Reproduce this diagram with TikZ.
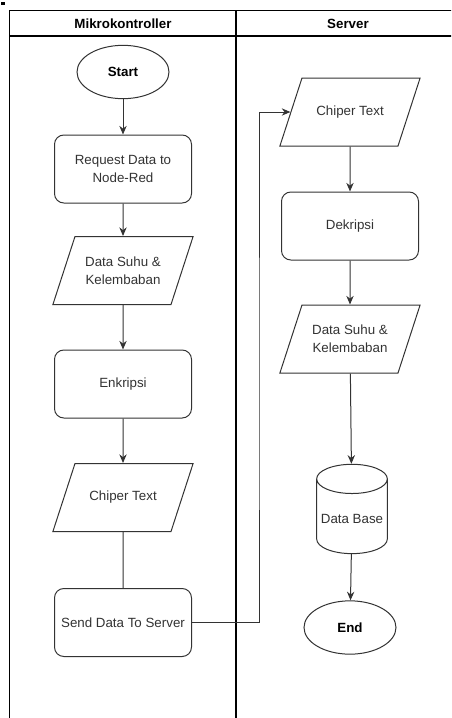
\documentclass[tikz,border=0pt]{standalone}
\usepackage{fontspec}
\setmainfont{Liberation Sans}
\usetikzlibrary{positioning,arrows.meta,shapes.geometric}
\definecolor{ink}{HTML}{000000}
\definecolor{inktwo}{HTML}{333333}
\definecolor{paper}{HTML}{FFFFFF}

\begin{document}
\begin{tikzpicture}[
      x=0.75pt, y=-0.75pt,
      lane/.style={draw=ink, line width=1pt},
      box/.style={draw=inktwo, fill=paper, rounded corners=7pt, line width=0.75pt,
                  minimum width=102.75pt, minimum height=51pt, align=center,
                  inner sep=2pt, text=inktwo, font=\fontsize{10}{13.5}\selectfont},
      iobox/.style={draw=inktwo, fill=paper, trapezium, trapezium left angle=72,
                  trapezium right angle=108, trapezium stretches body,
                  minimum width=102.75pt, inner xsep=1pt, inner ysep=5.5pt,
                  line width=0.75pt, text=inktwo, font=\fontsize{10}{13.5}\selectfont,
                  execute at begin node={\begin{minipage}[c][40pt][c]{70pt}\centering},
                  execute at end node={\end{minipage}}},
      term/.style={draw=inktwo, fill=paper, ellipse, line width=0.75pt,
                  minimum width=69pt, minimum height=40pt, inner sep=0pt,
                  text=ink, font=\fontsize{10}{12}\selectfont\bfseries},
      store/.style={draw=inktwo, fill=paper, cylinder, shape border rotate=90,
                  aspect=0.45, line width=0.75pt, minimum width=53pt,
                  minimum height=67pt, inner sep=1pt,
                  text=inktwo, font=\fontsize{10}{12}\selectfont},
      darrow/.style={-{Stealth[length=6.5pt, width=5.5pt]}, color=inktwo, line width=0.75pt},
      dline/.style={-, color=inktwo, line width=0.75pt},
    ]
      \useasboundingbox (0,0) rectangle (451,718);
      \clip (0,0) rectangle (451,718);

      % swimlanes
      \fill[ink] (1.5,1.5) rectangle (4.5,4.5);
      \draw[lane] (9.5,10.5) rectangle (461,740);
      \draw[lane] (9.5,36) -- (461,36);
      \draw[lane] (236,10.5) -- (236,740);
      \node[font=\fontsize{10}{12}\selectfont\bfseries] (laneMk) at (123,23.5) {Mikrokontroller};
      \node[font=\fontsize{10}{12}\selectfont\bfseries] (laneSv) at (348,23.5) {Server};

      % Mikrokontroller
      \node[term] (start) at (123,72) {Start};
      \node[box] (req) at (123,169) {Request Data to\\Node-Red};
      \node[iobox] (suhuA) at (123,270.5) {Data Suhu \&\\Kelembaban};
      \node[box] (enk) at (123,384) {Enkripsi};
      \node[iobox] (chipA) at (123,497.5) {Chiper Text};
      \node[box] (send) at (123,622.5) {Send Data To Server};

      % Server
      \node[iobox] (chipB) at (350,112) {Chiper Text};
      \node[box] (dek) at (350,226) {Dekripsi};
      \node[iobox] (suhuB) at (350,339) {Data Suhu \&\\Kelembaban};
      \node[store] (db) at (352,518.5) {Data Base};
      \node[term] (end) at (350,627.5) {End};

      \coordinate (jog) at (259,400);

      \draw[darrow] (start) -- (req);
      \draw[darrow] (req) -- (suhuA);
      \draw[darrow] (suhuA) -- (enk);
      \draw[darrow] (enk) -- (chipA);
      \draw[dline] (chipA) -- (send);
      \draw[darrow] (send.east) -| (jog) |- (chipB.west);

      \draw[darrow] (chipB) -- (dek);
      \draw[darrow] (dek) -- (suhuB);
      \draw[darrow] (suhuB) -- (db);
      \draw[darrow] (db) -- (end);
    \end{tikzpicture}
\end{document}
